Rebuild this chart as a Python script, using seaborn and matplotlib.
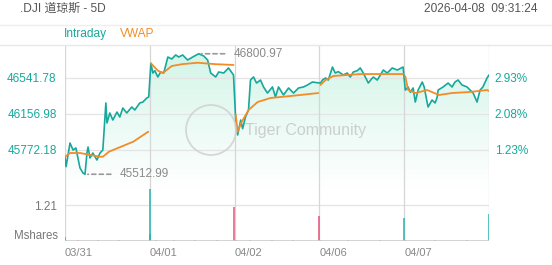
import numpy as np
import pandas as pd
import matplotlib
matplotlib.use("Agg")
import matplotlib.pyplot as plt
import seaborn as sns
from matplotlib.patches import Polygon, Ellipse
from matplotlib.colors import LinearSegmentedColormap
from matplotlib.lines import Line2D

# ---------------- data ----------------
title = ".DJI 道琼斯 - 5D"
timestamp = "2026-04-08  09:31:24"
day_labels = ["03/31", "04/01", "04/02", "04/06", "04/07"]
minutes_per_day = 390
prev_close = 45216.3
price_ticks = [45772.18, 46156.98, 46541.78]
day_high = 46800.97
day_low = 45512.99
vol_tick = 1.21

d1_min = [0, 5, 23, 37, 50, 69, 83, 92, 101, 106, 115, 128, 147, 161, 174, 188, 193,
          206, 220, 239, 252, 266, 284, 307, 321, 344, 358, 376, 385]
d1_px = [45700, 45594, 45847, 45772, 45794, 45580, 45526, 45513, 45740, 45804, 45687,
         45740, 45665, 45740, 45772, 46275, 46061, 46168, 46093, 46178, 46125, 46221,
         46168, 46232, 46200, 46275, 46285, 46328, 46339]
d2_min = [5, 14, 23, 37, 50, 64, 83, 101, 119, 133, 151, 174, 197, 225, 248, 266, 280,
          303, 317, 340, 362, 385]
d2_px = [46699, 46595, 46620, 46553, 46606, 46595, 46766, 46745, 46788, 46766, 46788,
         46734, 46766, 46801, 46777, 46734, 46595, 46553, 46606, 46595, 46649, 46574]
d3_min = [5, 14, 28, 37, 50, 64, 73, 87, 101, 119, 133, 151, 174, 188, 202, 225, 248,
          271, 294, 317, 335, 358, 385]
d3_px = [46093, 45933, 46093, 46000, 46125, 46200, 46520, 46553, 46488, 46520, 46446,
         46381, 46446, 46339, 46446, 46360, 46435, 46381, 46435, 46446, 46467, 46499,
         46490]
d4_min = [5, 14, 28, 41, 60, 73, 87, 110, 128, 142, 156, 174, 188, 202, 225, 239, 248,
          266, 294, 312, 335, 358, 385]
d4_px = [46488, 46520, 46542, 46520, 46659, 46595, 46610, 46574, 46595, 46552, 46606,
         46620, 46649, 46595, 46488, 46530, 46552, 46520, 46627, 46595, 46649, 46627,
         46659]
d5_min = [5, 18, 28, 41, 51, 64, 83, 92, 106, 110, 128, 142, 151, 156, 179, 202, 220,
          234, 248, 266, 289, 317, 335, 349, 362, 381, 390]
d5_px = [46413, 46446, 46390, 46435, 46285, 46413, 46499, 46446, 46275, 46232, 46307,
         46275, 46330, 46413, 46446, 46488, 46446, 46500, 46520, 46467, 46446, 46381,
         46285, 46413, 46446, 46542, 46574]

vw1_min = [0, 23, 69, 161, 174, 202, 314, 383]
vw1 = [45700, 45740, 45740, 45700, 45700, 45754, 45861, 45968]
vw2_min = [5, 37, 60, 101, 150, 220, 300, 385]
vw2 = [46699, 46620, 46595, 46670, 46690, 46705, 46690, 46681]
vw3_min = [5, 14, 30, 64, 106, 165, 257, 385]
vw3 = [46150, 45965, 46060, 46200, 46285, 46328, 46349, 46381]
vw4_min = [5, 28, 64, 188, 385]
vw4 = [46467, 46520, 46563, 46584, 46584]
vw5_min = [5, 18, 51, 106, 160, 220, 300, 381, 390]
vw5 = [46560, 46413, 46381, 46413, 46360, 46381, 46392, 46413, 46403]

vol_t = [0, 5, 60, 150, 250, 389, 392, 420, 500, 600, 700, 779, 785, 850, 950, 1050,
         1169, 1175, 1300, 1450, 1559, 1565, 1700, 1850, 1949]
vol_m = [0.15, 0.04, 0.03, 0.03, 0.02, 1.76, 0.25, 0.04, 0.03, 0.03, 0.03, 1.13, 0.05,
         0.03, 0.03, 0.02, 0.83, 0.04, 0.03, 0.02, 0.77, 0.05, 0.03, 0.03, 0.90]
vol_dir = ["up", "up", "down", "up", "down", "up", "up", "up", "down", "down", "up",
           "down", "down", "up", "down", "up", "down", "up", "down", "up", "up", "down",
           "up", "down", "up"]

# ---------------- frames ----------------
days_min = [d1_min, d2_min, d3_min, d4_min, d5_min]
days_px = [d1_px, d2_px, d3_px, d4_px, d5_px]
vw_min = [vw1_min, vw2_min, vw3_min, vw4_min, vw5_min]
vw_px = [vw1, vw2, vw3, vw4, vw5]

px_df = pd.concat([pd.DataFrame({"t": np.array(m) + i * minutes_per_day, "price": p})
                   for i, (m, p) in enumerate(zip(days_min, days_px))], ignore_index=True)
vw_df = pd.concat([pd.DataFrame({"t": np.array(m) + i * minutes_per_day, "vwap": p, "day": i})
                   for i, (m, p) in enumerate(zip(vw_min, vw_px))], ignore_index=True)

TEAL = "#17a89c"
ORANGE = "#f28c28"
RED = "#e8527c"
VTEAL = "#29b3ad"
GRID = "#e4e4e4"
VGRID = "#d6d6d6"

sns.set_theme(style="white")
plt.rcParams["font.family"] = ["Liberation Sans", "Noto Sans CJK SC", "DejaVu Sans"]

W, H = 552, 265
fig = plt.figure(figsize=(W / 100, H / 100), dpi=100)
fig.patch.set_facecolor("white")

def fx(x): return x / W
def fy(y): return 1 - y / H

ax = fig.add_axes([fx(65), fy(188), fx(489) - fx(65), fy(45) - fy(188)])
axv = fig.add_axes([fx(65), fy(241), fx(489) - fx(65), fy(188) - fy(241)], sharex=ax)

xmax = len(day_labels) * minutes_per_day
ymax = 46541.78 + 33 * 10.689
ymin = 46541.78 - 110 * 10.689

# gradient fill under the intraday line
t = px_df["t"].to_numpy()
p = px_df["price"].to_numpy()
verts = np.column_stack([np.r_[t[0], t, t[-1]], np.r_[ymin, p, ymin]])
poly = Polygon(verts, closed=True, facecolor="none", edgecolor="none")
ax.add_patch(poly)
cmap = LinearSegmentedColormap.from_list("g", ["#ffffff", "#eafaf4", "#d3f5e8"])
grad = np.linspace(0, 1, 256).reshape(-1, 1)
im = ax.imshow(grad, extent=[0, xmax, ymin, ymax - 100], aspect="auto", cmap=cmap,
               origin="lower", zorder=0.5)
im.set_clip_path(poly)

sns.lineplot(data=px_df, x="t", y="price", ax=ax, color=TEAL, lw=1.2, zorder=3)
sns.lineplot(data=vw_df, x="t", y="vwap", units="day", estimator=None, ax=ax,
             color=ORANGE, lw=1.3, zorder=4)

ax.set_xlim(0, xmax)
ax.set_ylim(ymin, ymax)
ax.set_xlabel("")
ax.set_ylabel("")
ax.set_yticks(price_ticks)
ax.set_yticklabels([f"{v:.2f}" for v in price_ticks])
ax.tick_params(axis="y", length=0, pad=6, labelsize=8.5, labelcolor=TEAL)
ax.tick_params(axis="x", length=0, labelbottom=False)
for v in price_ticks:
    ax.axhline(v, color=GRID, lw=0.9, zorder=1)
for i in range(len(day_labels) + 1):
    ax.axvline(i * minutes_per_day, color=VGRID, lw=0.9, zorder=1)
for s in ax.spines.values():
    s.set_visible(False)

axr = ax.twinx()
axr.set_ylim(ymin, ymax)
axr.set_yticks(price_ticks)
axr.set_yticklabels([f"{(v / prev_close - 1) * 100:.2f}%" for v in price_ticks])
axr.tick_params(axis="y", length=0, pad=4, labelsize=8.5, labelcolor=TEAL)
for s in axr.spines.values():
    s.set_visible(False)
axr.grid(False)

# high / low annotations
t_high = px_df.loc[px_df["price"].idxmax(), "t"]
t_low = px_df.loc[px_df["price"].idxmin(), "t"]
for tv, val in [(t_high, day_high), (t_low, day_low)]:
    ax.annotate(f"{val:.2f}", xy=(tv, val), xytext=(25, 0), textcoords="offset points",
                va="center", ha="left", color="#8a8a8a", fontsize=8.5, zorder=6,
                arrowprops=dict(arrowstyle="-", ls=(0, (2.5, 2)), color="#9a9a9a",
                                lw=1.2, shrinkA=4, shrinkB=2))

# volume
vcols = [VTEAL if d == "up" else RED for d in vol_dir]
axv.vlines(vol_t, 0, vol_m, colors=vcols, lw=1.1)
axv.set_ylim(0, 53 / 36 * vol_tick)
axv.set_yticks([vol_tick])
axv.set_yticklabels([f"{vol_tick:.2f}"])
axv.tick_params(axis="y", length=0, pad=6, labelsize=8.5, labelcolor="#777777")
axv.axhline(vol_tick, color=GRID, lw=0.9, zorder=0)
for i in range(len(day_labels) + 1):
    axv.axvline(i * minutes_per_day, color=VGRID, lw=0.9, zorder=0)
for s in axv.spines.values():
    s.set_visible(False)
axv.axhline(0, color="#cccccc", lw=1.2)
axv.set_xticks([i * minutes_per_day for i in range(len(day_labels))])
axv.set_xticklabels(day_labels)
for lab in axv.get_xticklabels():
    lab.set_horizontalalignment("left")
axv.tick_params(axis="x", length=0, pad=5, labelsize=8, labelcolor="#888888")
axv.set_xlim(0, xmax)
fig.text(fx(58), fy(236), "Mshares", ha="right", va="center", fontsize=8.3, color="#777777")

# header
fig.text(fx(20), fy(9), title, ha="left", va="center", fontsize=8.6, color="#555555")
fig.text(fx(537), fy(9), timestamp, ha="right", va="center", fontsize=8.6, color="#555555")
fig.add_artist(Line2D([0, 1], [fy(25), fy(25)], color="#eeeeee", lw=1))
fig.add_artist(Line2D([0, 1], [fy(45), fy(45)], color="#e8e8e8", lw=1))
fig.text(fx(64), fy(34), "Intraday", ha="left", va="center", fontsize=8.6, color=TEAL)
fig.text(fx(120), fy(34), "VWAP", ha="left", va="center", fontsize=8.6, color=ORANGE)

# watermark
fig.add_artist(Ellipse((fx(211), fy(130)), fx(50), 50 / H, facecolor="none",
                       edgecolor="#cfcfcf", lw=1.3, alpha=0.8))
fig.text(fx(245), fy(131), "Tiger Community", ha="left", va="center", fontsize=11.5,
         color="#c4c4c4", alpha=0.8)

fig.savefig("out.png", dpi=100, facecolor="white")
